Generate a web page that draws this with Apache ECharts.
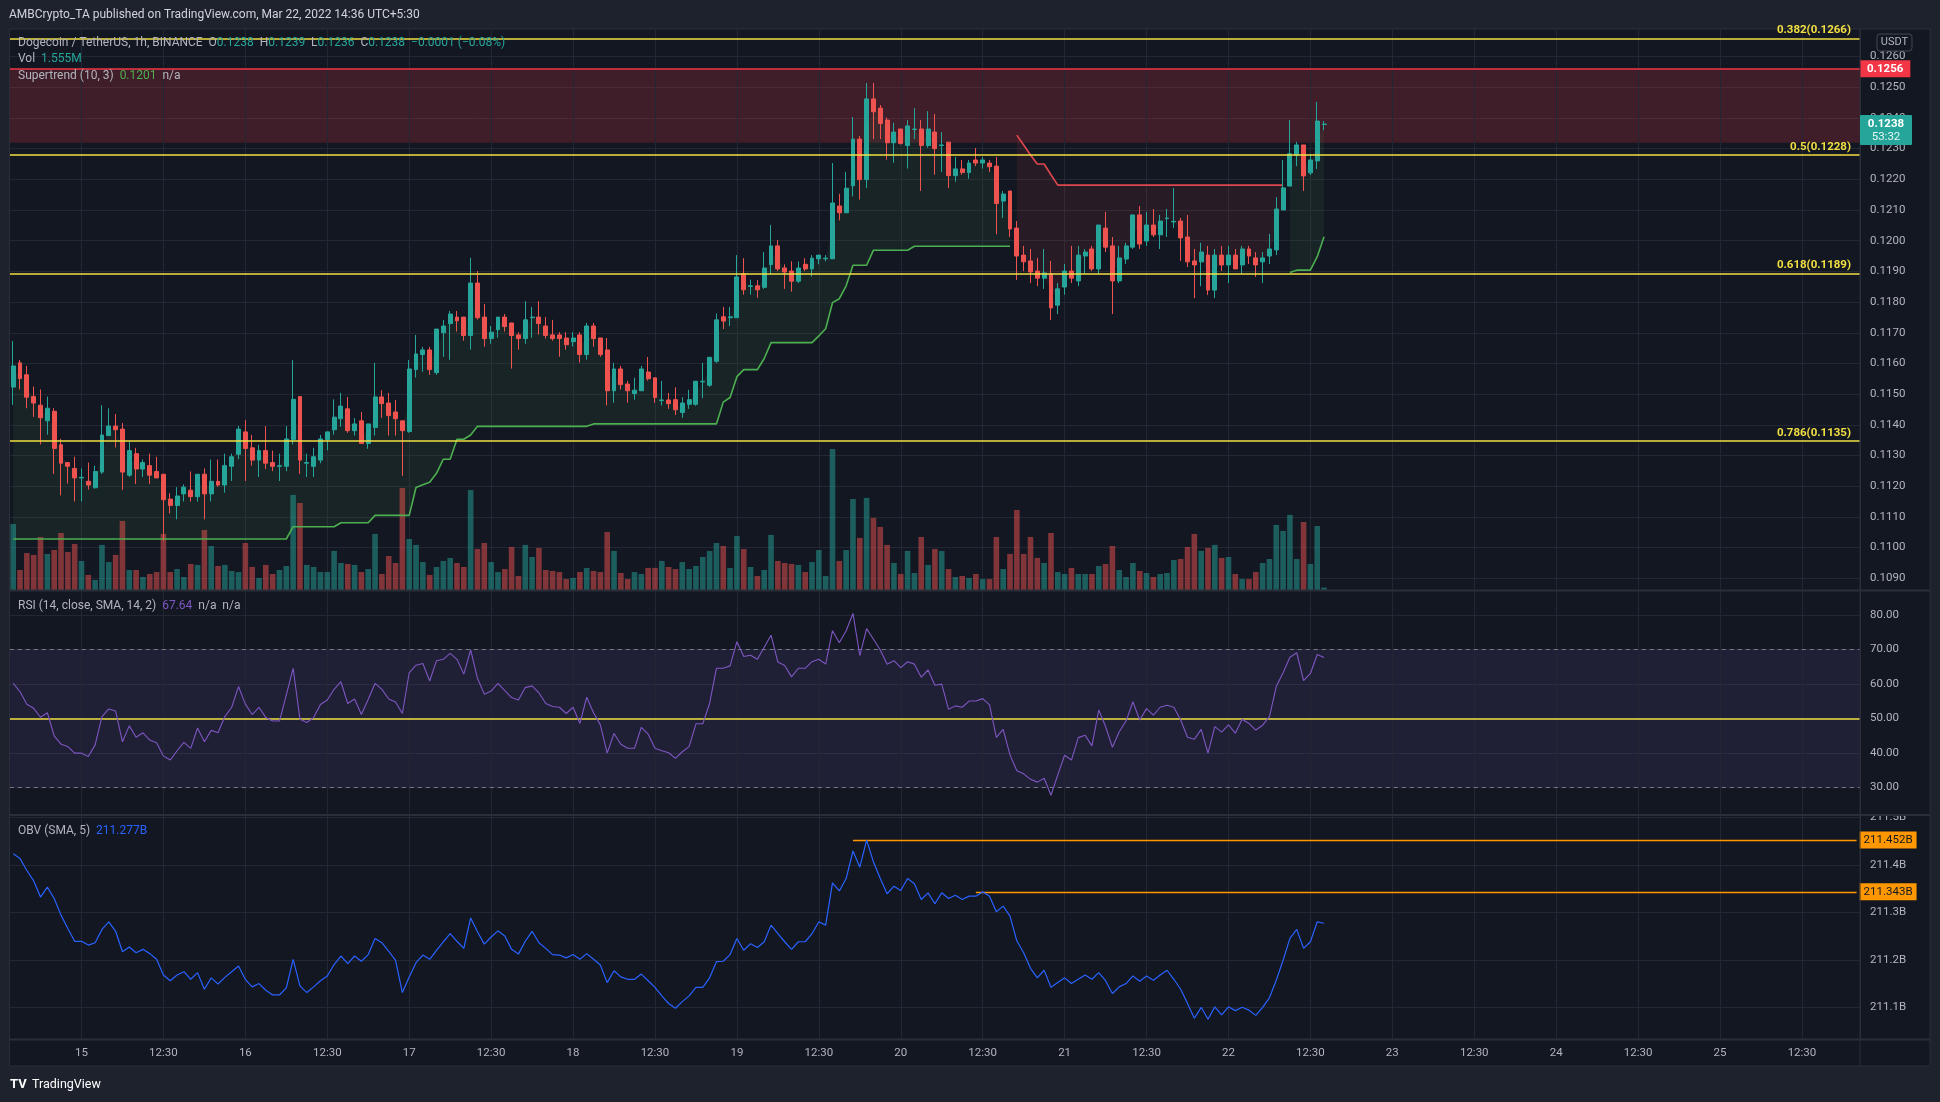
<!DOCTYPE html>
<html><head><meta charset="utf-8">
<script src="https://cdn.jsdelivr.net/npm/echarts@6/dist/echarts.min.js"></script>
<style>html,body{margin:0;padding:0;background:#1e222d;}#c{width:1940px;height:1102px;}</style>
</head><body><div id="c"></div>
<script>
// ---------------- DATA (DOGE/USDT 1h, BINANCE) ----------------
const startDay = 14, startHour = 14, totalSlots = 271; // 14 Mar 14:30 … 25 Mar 20:30 (UTC+5:30)
const open = [
0.11523,0.11602,0.11563,0.11492,0.11464,0.11413,0.11444,0.11335,0.11277,0.11258,
0.11227,0.11216,0.11195,0.11246,0.11365,0.11396,0.11386,0.11236,0.11306,0.11256,
0.11267,0.11248,0.11239,0.11158,0.11137,0.11175,0.11187,0.11166,0.11239,0.11175,
0.11216,0.11204,0.11265,0.11304,0.11377,0.11325,0.11285,0.11316,0.11277,0.11265,
0.11265,0.11352,0.11492,0.11275,0.11265,0.11285,0.11352,0.11384,0.11420,0.11452,
0.11381,0.11413,0.11339,0.11391,0.11491,0.11471,0.11442,0.11413,0.11378,0.11580,
0.11629,0.11644,0.11570,0.11700,0.11730,0.11751,0.11751,0.11691,0.11862,0.11751,
0.11681,0.11710,0.11751,0.11732,0.11693,0.11681,0.11749,0.11751,0.11722,0.11693,
0.11693,0.11683,0.11671,0.11693,0.11629,0.11722,0.11683,0.11644,0.11511,0.11582,
0.11533,0.11502,0.11511,0.11572,0.11553,0.11479,0.11481,0.11482,0.11440,0.11467,
0.11467,0.11540,0.11529,0.11607,0.11752,0.11749,0.11749,0.11893,0.11851,0.11853,
0.11848,0.11922,0.11983,0.11911,0.11901,0.11868,0.11923,0.11908,0.11941,0.11941,
0.11941,0.12113,0.12091,0.12179,0.12331,0.12199,0.12462,0.12432,0.12393,0.12319,
0.12364,0.12310,0.12362,0.12364,0.12310,0.12354,0.12310,0.12321,0.12212,0.12234,
0.12222,0.12263,0.12253,0.12253,0.12243,0.12129,0.12162,0.12041,0.11953,0.11934,
0.11901,0.11878,0.11892,0.11790,0.11849,0.11901,0.11869,0.11950,0.11973,0.11908,
0.12041,0.11983,0.11869,0.11940,0.11979,0.12084,0.11999,0.12051,0.12019,0.12072,
0.12061,0.12064,0.12012,0.11934,0.11931,0.11953,0.11839,0.11953,0.11921,0.11953,
0.11921,0.11973,0.11944,0.11931,0.11950,0.11970,0.12100,0.12178,0.12279,0.12312,
0.12221,0.12260,0.12379];
const high = [
0.11673,0.11611,0.11592,0.11525,0.11515,0.11492,0.11454,0.11354,0.11277,0.11296,
0.11258,0.11277,0.11267,0.11464,0.11454,0.11435,0.11406,0.11345,0.11325,0.11287,
0.11306,0.11296,0.11239,0.11177,0.11197,0.11206,0.11248,0.11239,0.11258,0.11287,
0.11287,0.11306,0.11306,0.11396,0.11415,0.11367,0.11335,0.11396,0.11316,0.11306,
0.11396,0.11611,0.11492,0.11306,0.11325,0.11367,0.11377,0.11483,0.11504,0.11491,
0.11422,0.11442,0.11403,0.11602,0.11513,0.11504,0.11481,0.11413,0.11611,0.11693,
0.11654,0.11654,0.11712,0.11742,0.11771,0.11771,0.11751,0.11944,0.11901,0.11794,
0.11722,0.11751,0.11761,0.11732,0.11702,0.11803,0.11784,0.11803,0.11751,0.11742,
0.11702,0.11702,0.11702,0.11702,0.11732,0.11732,0.11683,0.11683,0.11602,0.11592,
0.11543,0.11553,0.11592,0.11621,0.11553,0.11543,0.11504,0.11522,0.11490,0.11514,
0.11542,0.11602,0.11620,0.11763,0.11784,0.11784,0.11953,0.11943,0.11873,0.11872,
0.11963,0.12051,0.12002,0.11923,0.11933,0.11932,0.11943,0.11953,0.11953,0.11953,
0.12253,0.12153,0.12224,0.12403,0.12341,0.12514,0.12514,0.12442,0.12401,0.12384,
0.12364,0.12393,0.12432,0.12393,0.12422,0.12413,0.12354,0.12321,0.12273,0.12263,
0.12263,0.12302,0.12273,0.12263,0.12273,0.12162,0.12162,0.12064,0.11983,0.11973,
0.11944,0.11973,0.11934,0.11862,0.11924,0.11983,0.11983,0.11973,0.11983,0.12051,
0.12094,0.12012,0.11983,0.11993,0.12084,0.12113,0.12094,0.12103,0.12084,0.12103,
0.12172,0.12074,0.12084,0.11973,0.11993,0.11983,0.11973,0.11983,0.11983,0.11973,
0.11983,0.11983,0.11963,0.11963,0.12022,0.12142,0.12263,0.12393,0.12322,0.12312,
0.12283,0.12452,0.12390];
const low = [
0.11465,0.11515,0.11454,0.11426,0.11336,0.11368,0.11240,0.11170,0.11209,0.11150,
0.11150,0.11189,0.11192,0.11240,0.11365,0.11326,0.11188,0.11230,0.11207,0.11230,
0.11207,0.11227,0.11022,0.11111,0.11092,0.11150,0.11150,0.11150,0.11092,0.11150,
0.11198,0.11179,0.11217,0.11288,0.11217,0.11267,0.11230,0.11256,0.11249,0.11217,
0.11249,0.11336,0.11240,0.11230,0.11230,0.11275,0.11317,0.11368,0.11394,0.11374,
0.11365,0.11339,0.11322,0.11365,0.11423,0.11365,0.11365,0.11234,0.11374,0.11554,
0.11573,0.11563,0.11563,0.11622,0.11612,0.11704,0.11674,0.11645,0.11743,0.11655,
0.11664,0.11684,0.11704,0.11583,0.11645,0.11664,0.11684,0.11694,0.11681,0.11674,
0.11622,0.11645,0.11655,0.11603,0.11612,0.11655,0.11622,0.11463,0.11472,0.11515,
0.11472,0.11482,0.11511,0.11544,0.11472,0.11463,0.11452,0.11432,0.11423,0.11452,
0.11462,0.11487,0.11524,0.11602,0.11712,0.11722,0.11749,0.11824,0.11824,0.11814,
0.11843,0.11891,0.11901,0.11843,0.11834,0.11862,0.11901,0.11883,0.11923,0.11933,
0.11941,0.12066,0.12091,0.12144,0.12134,0.12171,0.12331,0.12331,0.12264,0.12254,
0.12313,0.12235,0.12331,0.12162,0.12303,0.12215,0.12224,0.12171,0.12192,0.12215,
0.12202,0.12243,0.12235,0.12224,0.12021,0.12074,0.12012,0.11872,0.11901,0.11862,
0.11852,0.11843,0.11742,0.11761,0.11824,0.11862,0.11852,0.11892,0.11901,0.11892,
0.11963,0.11761,0.11862,0.11924,0.11973,0.11973,0.11983,0.12012,0.11973,0.12012,
0.12041,0.11934,0.11914,0.11813,0.11852,0.11823,0.11813,0.11901,0.11862,0.11908,
0.11892,0.11924,0.11882,0.11862,0.11924,0.11953,0.12100,0.12178,0.12243,0.12162,
0.12214,0.12234,0.12360];
const close = [
0.11592,0.11551,0.11490,0.11471,0.11423,0.11454,0.11323,0.11275,0.11265,0.11227,
0.11229,0.11204,0.11248,0.11367,0.11396,0.11384,0.11246,0.11316,0.11256,0.11277,
0.11236,0.11227,0.11156,0.11137,0.11168,0.11197,0.11166,0.11239,0.11175,0.11216,
0.11204,0.11267,0.11296,0.11386,0.11323,0.11285,0.11316,0.11275,0.11265,0.11267,
0.11354,0.11483,0.11285,0.11277,0.11296,0.11354,0.11377,0.11425,0.11461,0.11381,
0.11403,0.11339,0.11403,0.11491,0.11469,0.11430,0.11420,0.11381,0.11582,0.11631,
0.11644,0.11580,0.11712,0.11722,0.11761,0.11739,0.11691,0.11862,0.11749,0.11681,
0.11702,0.11751,0.11720,0.11691,0.11681,0.11742,0.11751,0.11730,0.11691,0.11681,
0.11681,0.11661,0.11683,0.11629,0.11722,0.11681,0.11629,0.11511,0.11582,0.11531,
0.11511,0.11513,0.11582,0.11550,0.11489,0.11481,0.11469,0.11449,0.11471,0.11482,
0.11542,0.11542,0.11620,0.11742,0.11738,0.11752,0.11882,0.11840,0.11853,0.11840,
0.11911,0.11983,0.11908,0.11898,0.11868,0.11911,0.11908,0.11943,0.11953,0.11943,
0.12123,0.12091,0.12171,0.12331,0.12199,0.12462,0.12420,0.12382,0.12319,0.12354,
0.12317,0.12374,0.12364,0.12310,0.12364,0.12300,0.12312,0.12212,0.12234,0.12222,
0.12253,0.12253,0.12263,0.12241,0.12121,0.12152,0.12038,0.11950,0.11931,0.11898,
0.11878,0.11895,0.11781,0.11843,0.11901,0.11878,0.11953,0.11963,0.11908,0.12051,
0.11979,0.11869,0.11944,0.11983,0.12084,0.11989,0.12051,0.12019,0.12064,0.12074,
0.12063,0.12009,0.11931,0.11921,0.11963,0.11839,0.11953,0.11921,0.11953,0.11908,
0.11973,0.11950,0.11921,0.11944,0.11973,0.12103,0.12172,0.12283,0.12312,0.12211,
0.12263,0.12390,0.12380];
// volume in millions DOGE
const volume = [
41.6,12.6,23.3,22.1,33.4,22.7,25.2,35.9,23.9,29.0,
18.3,9.5,6.3,28.4,17.6,22.1,43.5,12.6,12.6,8.2,
10.1,11.3,35.3,11.3,13.2,8.2,16.4,15.8,37.8,27.7,
15.1,15.8,12.0,11.3,29.6,14.5,7.6,15.8,10.1,12.6,
15.1,59.9,54.8,15.8,14.5,11.3,11.3,24.6,17.0,16.4,
15.8,11.3,13.2,35.3,10.1,21.4,17.0,64.3,32.1,28.4,
17.6,9.5,14.5,18.3,20.2,17.0,14.5,63.0,25.8,29.6,
17.6,11.3,13.2,27.1,8.8,28.4,20.8,26.5,12.6,12.0,
11.3,6.9,7.6,11.3,13.9,12.0,11.3,36.5,24.6,10.7,
6.9,11.3,10.1,13.9,13.9,18.3,14.5,13.2,17.6,13.2,
15.1,20.8,24.6,29.6,27.7,13.9,34.0,25.8,14.5,8.8,
12.6,34.7,18.3,17.0,16.4,15.8,11.3,17.6,25.2,8.8,
88.8,18.3,25.2,57.3,32.8,58.0,45.4,39.7,28.4,17.0,
10.1,24.6,10.7,33.4,15.8,25.8,24.6,13.2,8.2,8.8,
7.6,10.1,6.9,6.9,33.4,13.2,22.7,50.4,22.7,33.4,
20.2,17.0,35.9,11.3,10.1,13.9,10.1,10.1,10.1,15.1,
16.4,27.7,12.6,8.2,17.0,12.0,10.7,8.2,10.1,10.7,
18.9,19.5,27.1,35.3,24.6,26.5,28.4,20.2,20.8,10.1,
6.9,6.9,11.3,17.0,19.5,41.0,37.2,47.3,19.5,42.8,
16.4,40.3,1.555];
// Supertrend (10, 3) line value per bar
const supertrend = [
0.11028,0.11028,0.11028,0.11028,0.11028,0.11028,0.11028,0.11028,0.11028,0.11028,
0.11028,0.11028,0.11028,0.11028,0.11028,0.11028,0.11028,0.11028,0.11028,0.11028,
0.11028,0.11028,0.11028,0.11028,0.11028,0.11028,0.11028,0.11028,0.11028,0.11028,
0.11028,0.11028,0.11028,0.11028,0.11028,0.11028,0.11028,0.11028,0.11028,0.11028,
0.11028,0.11068,0.11068,0.11068,0.11068,0.11068,0.11068,0.11068,0.11081,0.11081,
0.11081,0.11081,0.11081,0.11105,0.11105,0.11105,0.11105,0.11105,0.11105,0.11196,
0.11205,0.11213,0.11242,0.11288,0.11288,0.11353,0.11353,0.11367,0.11395,0.11395,
0.11395,0.11395,0.11395,0.11395,0.11395,0.11395,0.11395,0.11395,0.11395,0.11395,
0.11395,0.11395,0.11395,0.11395,0.11395,0.11403,0.11403,0.11403,0.11403,0.11403,
0.11403,0.11403,0.11403,0.11403,0.11403,0.11403,0.11403,0.11403,0.11403,0.11403,
0.11403,0.11403,0.11403,0.11403,0.11474,0.11489,0.11557,0.11580,0.11580,0.11580,
0.11616,0.11668,0.11668,0.11668,0.11668,0.11668,0.11668,0.11668,0.11690,0.11713,
0.11798,0.11811,0.11853,0.11920,0.11920,0.11920,0.11969,0.11969,0.11969,0.11969,
0.11969,0.11969,0.11982,0.11982,0.11982,0.11982,0.11982,0.11982,0.11982,0.11982,
0.11982,0.11982,0.11982,0.11982,0.11982,0.11982,0.11982,0.12344,0.12312,0.12279,
0.12250,0.12250,0.12215,0.12181,0.12181,0.12181,0.12181,0.12181,0.12181,0.12181,
0.12181,0.12181,0.12181,0.12181,0.12181,0.12181,0.12181,0.12181,0.12181,0.12181,
0.12181,0.12181,0.12181,0.12181,0.12181,0.12181,0.12181,0.12181,0.12181,0.12181,
0.12181,0.12181,0.12181,0.12181,0.12181,0.12181,0.12181,0.11896,0.11904,0.11904,
0.11904,0.11948,0.12013];
const trendFlips = [{start:0, dir:1}, {start:147, dir:-1}, {start:187, dir:1}];
const rsi = [
60.1,57.7,54.1,52.9,50.3,51.6,44.9,42.5,41.8,39.9,
39.9,38.9,42.3,50.5,52.7,52.1,43.2,47.8,44.5,45.8,
43.7,42.9,39.1,37.9,40.6,43.0,41.3,47.2,43.2,46.5,
45.8,50.5,53.2,59.2,54.1,51.1,53.2,50.2,49.2,49.2,
56.8,64.5,49.7,48.8,50.2,54.0,55.3,58.4,60.6,54.3,
55.6,51.1,55.5,60.1,58.4,55.6,54.7,51.4,63.2,65.4,
65.9,60.8,66.7,67.1,68.8,67.1,62.8,69.8,61.6,57.0,
57.9,60.1,58.0,56.0,55.3,58.9,59.4,57.4,54.3,53.4,
53.2,51.4,53.2,48.5,56.1,51.6,48.1,39.9,45.6,42.5,
41.3,41.3,47.4,45.4,41.3,40.6,40.0,38.4,40.3,41.8,
48.4,48.4,54.3,64.5,64.5,65.2,72.2,67.9,68.3,67.1,
70.6,74.1,66.3,65.3,62.0,64.5,64.5,66.4,67.1,65.7,
75.4,71.9,75.4,80.4,68.2,76.0,72.9,69.8,65.7,66.7,
64.7,66.4,65.7,61.9,64.0,59.6,59.9,52.6,53.6,53.2,
55.0,55.0,55.7,53.9,44.5,46.8,39.4,34.8,33.9,32.3,
31.5,32.6,27.7,33.6,39.3,37.9,44.4,45.1,42.0,52.4,
47.6,41.6,46.1,49.2,54.8,49.5,52.8,50.9,53.2,53.8,
53.2,49.5,44.5,43.9,46.8,39.9,47.6,46.0,48.1,45.7,
49.7,48.5,46.6,48.0,50.5,59.2,63.2,67.7,69.0,60.9,
63.0,68.5,67.64];
// OBV in billions
const obv = [
211.423,211.413,211.388,211.366,211.332,211.353,211.329,211.294,211.266,211.239,
211.239,211.231,211.236,211.264,211.280,211.260,211.217,211.227,211.215,211.222,
211.213,211.201,211.168,211.156,211.168,211.175,211.159,211.173,211.138,211.162,
211.149,211.163,211.175,211.187,211.159,211.143,211.150,211.136,211.126,211.126,
211.141,211.201,211.145,211.131,211.143,211.156,211.166,211.190,211.208,211.192,
211.208,211.197,211.211,211.245,211.236,211.218,211.199,211.131,211.164,211.194,
211.210,211.201,211.220,211.238,211.255,211.239,211.224,211.288,211.259,211.233,
211.248,211.261,211.250,211.222,211.212,211.239,211.260,211.236,211.224,211.211,
211.210,211.204,211.211,211.201,211.213,211.201,211.189,211.152,211.177,211.164,
211.159,211.159,211.170,211.156,211.142,211.124,211.108,211.098,211.112,211.124,
211.142,211.142,211.162,211.196,211.197,211.211,211.245,211.220,211.234,211.226,
211.238,211.273,211.255,211.238,211.222,211.238,211.238,211.255,211.280,211.273,
211.362,211.345,211.371,211.429,211.395,211.452,211.406,211.371,211.339,211.355,
211.346,211.371,211.360,211.327,211.341,211.318,211.341,211.329,211.336,211.327,
211.334,211.334,211.343,211.334,211.301,211.313,211.292,211.240,211.215,211.182,
211.162,211.178,211.142,211.152,211.162,211.150,211.159,211.168,211.159,211.173,
211.156,211.129,211.143,211.150,211.166,211.155,211.166,211.157,211.168,211.178,
211.159,211.138,211.108,211.077,211.100,211.075,211.101,211.084,211.101,211.093,
211.100,211.094,211.083,211.100,211.120,211.157,211.199,211.245,211.264,211.224,
211.238,211.280,211.277];
// drawings
const fibLevels = [0.382, 0.5, 0.618, 0.786];
const fibPrices = [0.12659, 0.12280, 0.11893, 0.11347];
const resistanceTop = 0.1256, resistanceBottom = 0.12319;
const obvLevels = [211.452, 211.343];
const obvLevelStart = [123, 141];
const rsiLevels = {upper:70, middle:50, lower:30};
const countdown = '53:32';

// ---------------- BUILD ----------------
const N = open.length;
const FONT = 'Roboto, "Noto Sans", "DejaVu Sans", sans-serif';
const UP = '#26a69a', DN = '#ef5350', GRID = '#232734', FIB = '#f2df42', TXT = '#b2b5be';
const categories = [];
for (let s = 0; s < totalSlots; s++) {
  const h = startHour + s;
  const d = startDay + Math.floor(h / 24), hr = h % 24;
  categories.push(d + ' ' + String(hr).padStart(2, '0') + ':30');
}
const isTick = v => v.endsWith(' 00:30') || v.endsWith(' 12:30');
const tickCats = categories.filter(isTick);
const vLines = tickCats.map(c => ({xAxis: c}));

const candleData = open.map((o, i) => [o, close[i], low[i], high[i]]);
const volData = volume.map((v, i) => ({value: v, itemStyle: {color: close[i] >= open[i] ? 'rgba(38,166,154,0.5)' : 'rgba(239,83,80,0.5)'}}));
const dir = open.map((_, i) => { let d = 1; trendFlips.forEach(f => { if (i >= f.start) d = f.dir; }); return d; });
const mid = open.map((o, i) => (o + close[i]) / 2);
const stUp = supertrend.map((v, i) => dir[i] === 1 ? v : '-');
const stDn = supertrend.map((v, i) => dir[i] === -1 ? v : '-');
const fillUpBand = supertrend.map((v, i) => dir[i] === 1 ? mid[i] - v : '-');
const fillDnBase = mid.map((m, i) => dir[i] === -1 ? m : '-');
const fillDnBand = supertrend.map((v, i) => dir[i] === -1 ? v - mid[i] : '-');
const fibLabel = i => fibLevels[i] + '(' + fibPrices[i].toFixed(4) + ')';

// pane geometry (pixel layout)
const L = 9.8, W = 1850.2;
const xAxes = [0, 1, 2].map(g => ({
  type: 'category', gridIndex: g, data: categories, boundaryGap: true,
  axisLine: {show: false}, axisTick: {show: false}, splitLine: {show: false},
  axisLabel: g === 2 ? {
    show: true, interval: (i, v) => isTick(v), color: TXT, fontSize: 11.5, margin: 8, fontFamily: FONT,
    formatter: v => v.endsWith('00:30') ? v.split(' ')[0] : '12:30'
  } : {show: false}
}));
function yAx(g, min, max, split, fmt) {
  return {type: 'value', gridIndex: g, position: 'right', min: min, max: max, splitNumber: split,
    axisLine: {show: true, lineStyle: {color: '#2a2e39'}}, axisTick: {show: false},
    axisLabel: {color: TXT, fontSize: 11.5, margin: 10, fontFamily: FONT, showMinLabel: false, showMaxLabel: false, formatter: fmt},
    splitLine: {show: true, showMinLine: false, showMaxLine: false, lineStyle: {color: GRID}}};
}
const lastClose = close[N - 1], prevClose = close[N - 2];
const option = {
  backgroundColor: '#131722',
  animation: false,
  textStyle: {fontFamily: FONT},
  grid: [
    {left: L, top: 29.3, width: W, height: 560.7},
    {left: L, top: 591, width: W, height: 224},
    {left: L, top: 815, width: W, height: 224}
  ],
  xAxis: xAxes,
  yAxis: [
    yAx(0, 0.108618, 0.126888, 18, v => v.toFixed(4)),
    {type: 'value', gridIndex: 0, min: 0, max: 353, show: false, splitLine: {show: false}},
    yAx(1, 21.97, 86.9, 6, v => v.toFixed(2)),
    yAx(2, 211.0333, 211.5048, 5, v => v.toFixed(1) + 'B')
  ],
  series: [
    {type: 'bar', name: 'Vol', xAxisIndex: 0, yAxisIndex: 1, data: volData, barWidth: 5.6, z: 2, silent: true,
      markLine: {silent: true, z: 1, symbol: ['none', 'none'], label: {show: false}, lineStyle: {color: GRID, width: 1, type: 'solid'}, data: vLines}},
    {type: 'line', name: 'stUpBase', xAxisIndex: 0, yAxisIndex: 0, stack: 'fu', stackStrategy: 'all', data: stUp, symbol: 'none', lineStyle: {opacity: 0}, silent: true, z: 2},
    {type: 'line', name: 'stUpFill', xAxisIndex: 0, yAxisIndex: 0, stack: 'fu', stackStrategy: 'all', data: fillUpBand, symbol: 'none', lineStyle: {opacity: 0}, areaStyle: {color: 'rgba(76,175,80,0.12)'}, silent: true, z: 2},
    {type: 'line', name: 'stDnBase', xAxisIndex: 0, yAxisIndex: 0, stack: 'fd', stackStrategy: 'all', data: fillDnBase, symbol: 'none', lineStyle: {opacity: 0}, silent: true, z: 2},
    {type: 'line', name: 'stDnFill', xAxisIndex: 0, yAxisIndex: 0, stack: 'fd', stackStrategy: 'all', data: fillDnBand, symbol: 'none', lineStyle: {opacity: 0}, areaStyle: {color: 'rgba(255,82,82,0.12)'}, silent: true, z: 2},
    {type: 'line', name: 'Supertrend up', xAxisIndex: 0, yAxisIndex: 0, data: stUp, symbol: 'none', lineStyle: {color: '#4caf50', width: 1.6}, z: 3, silent: true},
    {type: 'line', name: 'Supertrend down', xAxisIndex: 0, yAxisIndex: 0, data: stDn, symbol: 'none', lineStyle: {color: '#e0474f', width: 1.6}, z: 3, silent: true},
    {type: 'candlestick', name: 'DOGEUSDT', xAxisIndex: 0, yAxisIndex: 0, data: candleData, barWidth: 4.4, z: 4, silent: true,
      itemStyle: {color: UP, color0: DN, borderColor: UP, borderColor0: DN, borderWidth: 1},
      markArea: {silent: true, itemStyle: {color: 'rgba(242,54,69,0.2)'}, data: [[{yAxis: resistanceBottom}, {yAxis: resistanceTop}]]},
      markLine: {silent: true, precision: 6, symbol: ['none', 'none'], z: 5,
        data: fibPrices.map((p, i) => ({yAxis: p, lineStyle: {color: FIB, width: 1.5, type: 'solid'},
          label: i === 0 ? {show: false} : {show: true, position: 'insideEndTop', distance: [9, 2], formatter: fibLabel(i), color: FIB, fontWeight: 'bold', fontSize: 11.5, fontFamily: FONT}}))
          .concat([{yAxis: resistanceTop, lineStyle: {color: '#f23645', width: 1.5, type: 'solid'},
            label: {show: true, position: 'end', distance: 0, formatter: resistanceTop.toFixed(4), backgroundColor: '#f23645', color: '#ffffff', fontWeight: 'bold', fontSize: 11.5, fontFamily: FONT, padding: [3, 7, 2, 7]}}])
      }},
    {type: 'line', name: 'RSI', xAxisIndex: 1, yAxisIndex: 2, data: rsi, symbol: 'none', lineStyle: {color: '#7e57c2', width: 1.1}, z: 3, silent: true,
      markArea: {silent: true, itemStyle: {color: 'rgba(126,87,194,0.12)'}, data: [[{yAxis: rsiLevels.lower}, {yAxis: rsiLevels.upper}]]},
      markLine: {silent: true, precision: 4, z: 1, symbol: ['none', 'none'], label: {show: false}, lineStyle: {color: GRID, width: 1, type: 'solid'},
        data: vLines.concat([
          {yAxis: rsiLevels.upper, lineStyle: {color: '#787b86', width: 1, type: [4, 4]}},
          {yAxis: rsiLevels.lower, lineStyle: {color: '#787b86', width: 1, type: [4, 4]}},
          {yAxis: rsiLevels.middle, lineStyle: {color: FIB, width: 1.5, type: 'solid'}}
        ])}},
    {type: 'line', name: 'OBV', xAxisIndex: 2, yAxisIndex: 3, data: obv, symbol: 'none', lineStyle: {color: '#2962ff', width: 1.2}, z: 3, silent: true,
      markLine: {silent: true, precision: 4, z: 1, symbol: ['none', 'none'], label: {show: false}, lineStyle: {color: GRID, width: 1, type: 'solid'},
        data: vLines.concat(obvLevels.map((lv, k) => [
          {coord: [obvLevelStart[k], lv], lineStyle: {color: '#ff9800', width: 1.3, type: 'solid'},
            label: {show: true, position: 'end', distance: 3, formatter: lv.toFixed(3) + 'B', backgroundColor: '#ff9800', color: '#131722', fontSize: 11.5, fontFamily: FONT, padding: [3, 4, 2, 4]}},
          {coord: [totalSlots - 1, lv]}
        ]))}}
  ]
};
const chart = echarts.init(document.getElementById('c'), null, {width: 1940, height: 1102});
chart.setOption(option);

// ---------------- ANNOTATIONS / CHROME ----------------
const f4 = v => v.toFixed(4);
const ch = lastClose - prevClose, pct = ch / prevClose * 100;
const sg = ch < 0 ? '\u2212' : '+';
const chgStr = sg + Math.abs(ch).toFixed(4) + ' (' + sg + Math.abs(pct).toFixed(2) + '%)';
const yCur = chart.convertToPixel({yAxisIndex: 0}, lastClose);
const yFib0 = chart.convertToPixel({yAxisIndex: 0}, fibPrices[0]);
const LF = 12;
const rich = {
  t: {fill: TXT, fontSize: LF, fontFamily: FONT},
  v: {fill: UP, fontSize: LF, fontFamily: FONT},
  g: {fill: '#4caf50', fontSize: LF, fontFamily: FONT},
  p: {fill: '#7e57c2', fontSize: LF, fontFamily: FONT},
  b: {fill: '#2962ff', fontSize: LF, fontFamily: FONT}
};
function txt(x, y, text, extra) {
  return Object.assign({type: 'text', x: x, y: y, z: 100, silent: true,
    style: {text: text, rich: rich, fill: TXT, fontSize: LF, fontFamily: FONT, textAlign: 'left', align: 'left', textVerticalAlign: 'middle', verticalAlign: 'middle'}}, extra || {});
}
const bg2 = '#1e222d';
const elements = [
  {type: 'rect', z: 90, silent: true, shape: {x: 0, y: 0, width: 1940, height: 29}, style: {fill: bg2}},
  {type: 'rect', z: 90, silent: true, shape: {x: 0, y: 0, width: 9.5, height: 1102}, style: {fill: bg2}},
  {type: 'rect', z: 90, silent: true, shape: {x: 1930, y: 0, width: 10, height: 1102}, style: {fill: bg2}},
  {type: 'rect', z: 90, silent: true, shape: {x: 0, y: 1066, width: 1940, height: 36}, style: {fill: bg2}},
  // pane separators
  {type: 'line', z: 95, silent: true, shape: {x1: 9.5, y1: 590.5, x2: 1930, y2: 590.5}, style: {stroke: '#2a2e39', lineWidth: 2}},
  {type: 'rect', z: 94, silent: true, shape: {x: 1861, y: 804, width: 68, height: 11}, style: {fill: '#131722'}},
  {type: 'line', z: 95, silent: true, shape: {x1: 9.5, y1: 815, x2: 1930, y2: 815}, style: {stroke: '#2a2e39', lineWidth: 2}},
  {type: 'line', z: 95, silent: true, shape: {x1: 9.5, y1: 1039.5, x2: 1930, y2: 1039.5}, style: {stroke: '#2a2e39', lineWidth: 2}},
  {type: 'line', z: 95, silent: true, shape: {x1: 1860, y1: 29, x2: 1860, y2: 1066}, style: {stroke: '#2a2e39', lineWidth: 1}},
  {type: 'rect', z: 95, silent: true, shape: {x: 9.5, y: 29, width: 1920.5, height: 1037}, style: {fill: 'none', stroke: '#2a2e39', lineWidth: 1}},
  // 0.382 fib label (overhangs the pane top)
  {type: 'text', z: 101, silent: true, x: 1851, y: yFib0 - 2, style: {text: fibLabel(0), fill: FIB, fontSize: 11.5, fontWeight: 'bold', fontFamily: FONT, align: 'right', textAlign: 'right', verticalAlign: 'bottom', textVerticalAlign: 'bottom'}},
  // header
  {type: 'text', z: 100, silent: true, x: 9, y: 15, style: {text: 'AMBCrypto_TA published on TradingView.com, Mar 22, 2022 14:36 UTC+5:30', fill: '#d1d4dc', fontSize: 12, fontFamily: FONT, align: 'left', textAlign: 'left', verticalAlign: 'middle', textVerticalAlign: 'middle'}},
  // legends
  txt(18, 42.5, '{t|Dogecoin / TetherUS, 1h, BINANCE}  {t|O}{v|' + f4(open[N - 1]) + '}  {t|H}{v|' + f4(high[N - 1]) + '}  {t|L}{v|' + f4(low[N - 1]) + '}  {t|C}{v|' + f4(lastClose) + '}  {v|' + chgStr + '}'),
  txt(18, 58.5, '{t|Vol}  {v|' + volume[N - 1].toFixed(3) + 'M}'),
  txt(18, 76, '{t|Supertrend (10, 3)}  {g|' + f4(supertrend[N - 1]) + '}  {t|n/a}'),
  txt(18, 606, '{t|RSI (14, close, SMA, 14, 2)}  {p|' + rsi[N - 1].toFixed(2) + '}  {t|n/a}  {t|n/a}'),
  txt(18, 831, '{t|OBV (SMA, 5)}  {b|' + obv[N - 1].toFixed(3) + 'B}'),
  // USDT box
  {type: 'rect', z: 100, silent: true, shape: {x: 1877, y: 34, width: 35, height: 17, r: 3}, style: {fill: '#131722', stroke: '#434651', lineWidth: 1}},
  {type: 'text', z: 101, silent: true, x: 1894.5, y: 42.7, style: {text: 'USDT', fill: TXT, fontSize: 11, fontFamily: FONT, align: 'center', textAlign: 'center', verticalAlign: 'middle', textVerticalAlign: 'middle'}},
  // current price badge
  {type: 'rect', z: 100, silent: true, shape: {x: 1860, y: yCur - 9, width: 52, height: 30, r: 1}, style: {fill: UP}},
  {type: 'text', z: 101, silent: true, x: 1886, y: yCur, style: {text: f4(lastClose), fill: '#ffffff', fontSize: 11.5, fontWeight: 'bold', fontFamily: FONT, align: 'center', textAlign: 'center', verticalAlign: 'middle', textVerticalAlign: 'middle'}},
  {type: 'text', z: 101, silent: true, x: 1886, y: yCur + 13.5, style: {text: countdown, fill: '#e6f4f2', fontSize: 11.5, fontFamily: FONT, align: 'center', textAlign: 'center', verticalAlign: 'middle', textVerticalAlign: 'middle'}},
  // footer
  {type: 'text', z: 101, silent: true, x: 10, y: 1085, style: {text: 'TV', fill: '#ffffff', fontSize: 13, fontWeight: 'bold', fontFamily: FONT, align: 'left', textAlign: 'left', verticalAlign: 'middle', textVerticalAlign: 'middle'}},
  {type: 'text', z: 101, silent: true, x: 32, y: 1085, style: {text: 'TradingView', fill: '#ffffff', fontSize: 12.5, fontFamily: FONT, align: 'left', textAlign: 'left', verticalAlign: 'middle', textVerticalAlign: 'middle'}}
];
chart.setOption({graphic: {elements: elements}});
</script>
</body></html>
